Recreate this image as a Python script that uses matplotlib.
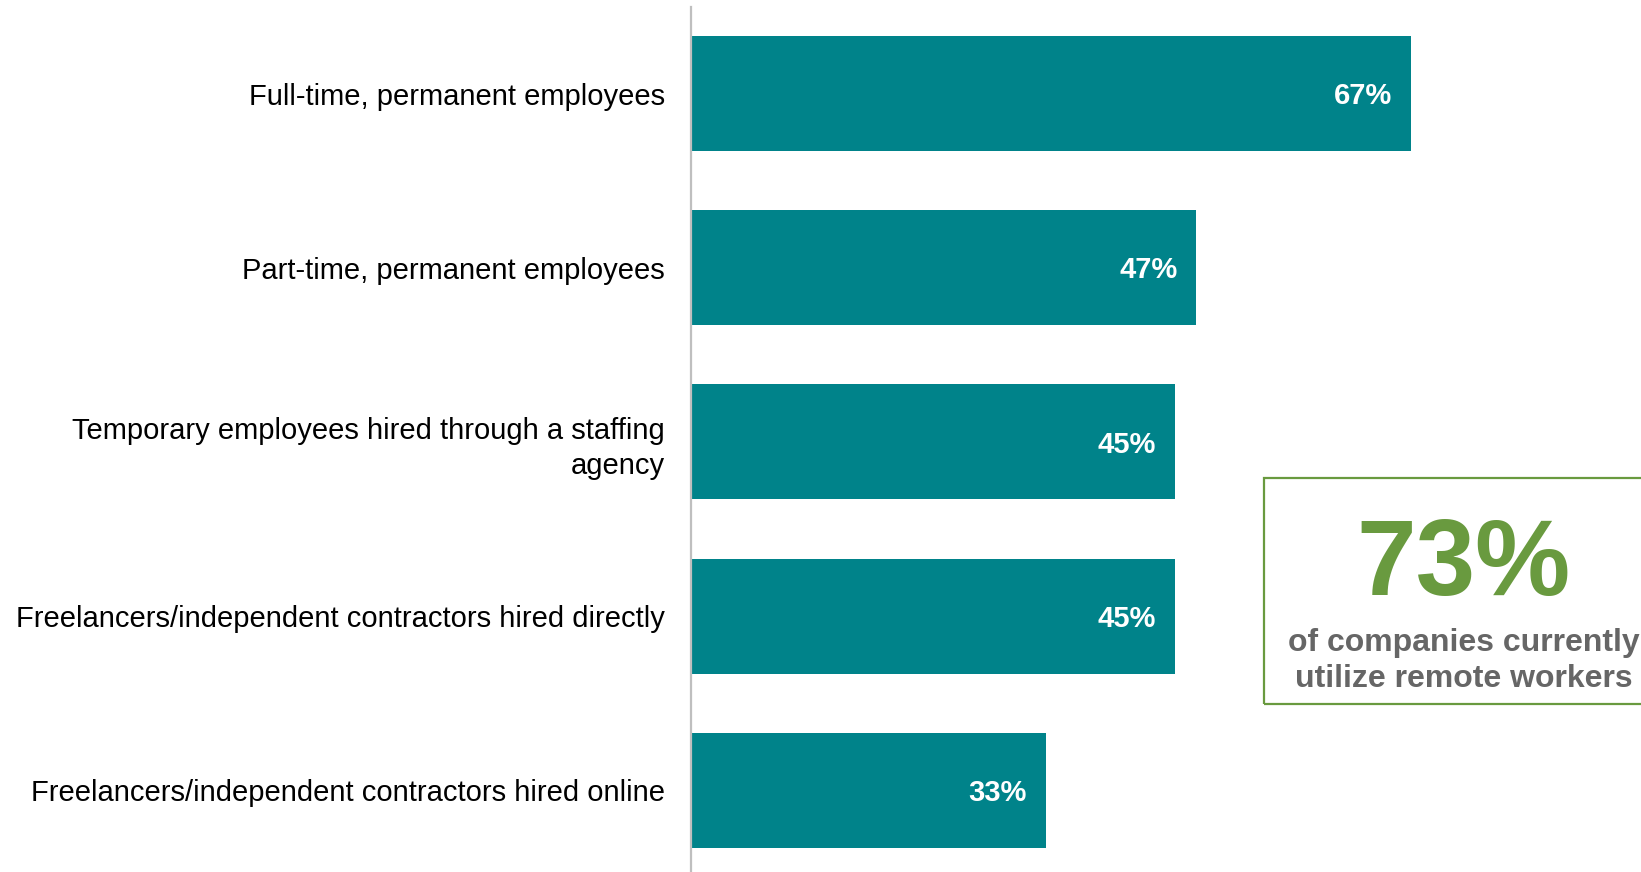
import matplotlib.pyplot as plt
from matplotlib.patches import Rectangle

# Share of companies using remote workers, by worker type
categories = ["Full-time, permanent employees",
              "Part-time, permanent employees",
              "Temporary employees hired through a staffing\nagency",
              "Freelancers/independent contractors hired directly",
              "Freelancers/independent contractors hired online"]
values = [67, 47, 45, 45, 33]
headline = 73
headline_text = "of companies currently\nutilize remote workers"

bar_color = '#00838A'
green = '#699A3F'
grey_text = '#666666'

plt.rcParams['font.family'] = ['Liberation Sans', 'DejaVu Sans']

fig = plt.figure(figsize=(16.41, 8.72), dpi=100)
ax = fig.add_axes([0.4211, 0.0, 0.5789, 0.9916])

y = list(range(len(categories)))
ax.barh(y, values, height=0.66, color=bar_color)

for yi, v in zip(y, values):
    ax.text(v - 1.75, yi + 0.015, f"{v}%", ha='right', va='center',
            color='white', fontsize=21, fontweight='bold')

ax.set_xlim(0, 88.4)
ax.set_ylim(4.47, -0.496)
ax.set_yticks(y)
ax.set_yticklabels(categories, fontsize=21, color='black', linespacing=1.3)
ax.tick_params(axis='y', length=0, pad=19)
ax.set_xticks([])
for side in ['top', 'right', 'bottom']:
    ax.spines[side].set_visible(False)
ax.spines['left'].set_color('#BFBFBF')
ax.spines['left'].set_linewidth(1.6)

# callout box on the right
box = Rectangle((0.7705, 0.1927), 0.26, 0.2591, transform=fig.transFigure,
                fill=False, edgecolor=green, linewidth=1.6, clip_on=False)
fig.patches.append(box)
fig.text(0.8916, 0.350, f"{headline}%", ha='center', va='center',
         color=green, fontsize=77, fontweight='bold')
fig.text(0.8922, 0.242, headline_text, ha='center', va='center',
         color=grey_text, fontsize=23, fontweight='bold', linespacing=1.3)

fig.savefig('out.png', dpi=100)
